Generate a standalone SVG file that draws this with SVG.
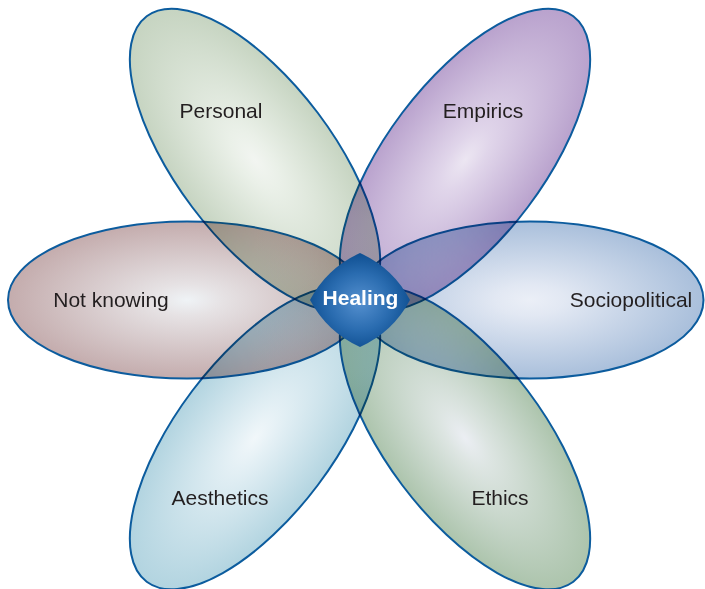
<svg xmlns="http://www.w3.org/2000/svg" width="705" height="589" viewBox="0 0 705 589">
<defs>
<radialGradient id="gPersonal"><stop offset="0" stop-color="#f2f5f1"/><stop offset="0.2" stop-color="#eaf0e8"/><stop offset="1" stop-color="#c6d4c1"/></radialGradient>
<radialGradient id="gEmpirics"><stop offset="0" stop-color="#ece6f2"/><stop offset="0.2" stop-color="#e0d5ea"/><stop offset="1" stop-color="#b9a2cd"/></radialGradient>
<radialGradient id="gNot"><stop offset="0" stop-color="#eff3f6"/><stop offset="0.2" stop-color="#e6e2e4"/><stop offset="1" stop-color="#c4acad"/></radialGradient>
<radialGradient id="gSocio"><stop offset="0" stop-color="#ebeff7"/><stop offset="0.2" stop-color="#e2e8f3"/><stop offset="1" stop-color="#a9bfdb"/></radialGradient>
<radialGradient id="gAes"><stop offset="0" stop-color="#f1f7fa"/><stop offset="0.2" stop-color="#e4f0f5"/><stop offset="1" stop-color="#b2d4e0"/></radialGradient>
<radialGradient id="gEth"><stop offset="0" stop-color="#ebeef3"/><stop offset="0.2" stop-color="#dde5e2"/><stop offset="1" stop-color="#acc4ac"/></radialGradient>
<radialGradient id="gHeal" cx="0.5" cy="0.52" r="0.55"><stop offset="0" stop-color="#5590cf"/><stop offset="0.55" stop-color="#2a6cb0"/><stop offset="1" stop-color="#0b4b8d"/></radialGradient>
</defs>
<style>
.petal ellipse{stroke:#0c5c9e;stroke-width:2;}
.petal{mix-blend-mode:multiply;}
.lbl{font-family:"Liberation Sans",Arial,sans-serif;font-size:21px;fill:#231f20;text-anchor:middle;}
.heal{font-family:"Liberation Sans",Arial,sans-serif;font-size:21px;font-weight:bold;fill:#ffffff;text-anchor:middle;}
</style>
<g id="flower" style="isolation:isolate">
<g id="not-knowing" class="petal"><ellipse cx="187" cy="300" rx="179" ry="78.5" fill="url(#gNot)"/></g>
<g id="sociopolitical" class="petal"><ellipse cx="530" cy="300" rx="173.5" ry="78.5" fill="url(#gSocio)"/></g>
<g id="personal" class="petal"><ellipse cx="0" cy="0" rx="180" ry="78.5" transform="translate(255,160) rotate(53)" fill="url(#gPersonal)"/></g>
<g id="empirics" class="petal"><ellipse cx="0" cy="0" rx="180" ry="78.5" transform="translate(465,160) rotate(-53)" fill="url(#gEmpirics)"/></g>
<g id="aesthetics" class="petal"><ellipse cx="0" cy="0" rx="180" ry="78.5" transform="translate(255,438) rotate(-53)" fill="url(#gAes)"/></g>
<g id="ethics" class="petal"><ellipse cx="0" cy="0" rx="180" ry="78.5" transform="translate(465,438) rotate(53)" fill="url(#gEth)"/></g>
</g>
<g id="labels">
<text class="lbl" x="221" y="118">Personal</text>
<text class="lbl" x="483" y="118">Empirics</text>
<text class="lbl" x="111" y="307">Not knowing</text>
<text class="lbl" x="631" y="307">Sociopolitical</text>
<text class="lbl" x="220" y="505">Aesthetics</text>
<text class="lbl" x="500" y="505">Ethics</text>
</g>
<g id="connectors"></g>
<g id="healing">
<path d="M360,253 Q393,268 410,300 Q393,332 360,347 Q327,332 310,300 Q327,268 360,253 Z" fill="url(#gHeal)"/>
<text class="heal" x="360.5" y="305">Healing</text>
</g>
</svg>
